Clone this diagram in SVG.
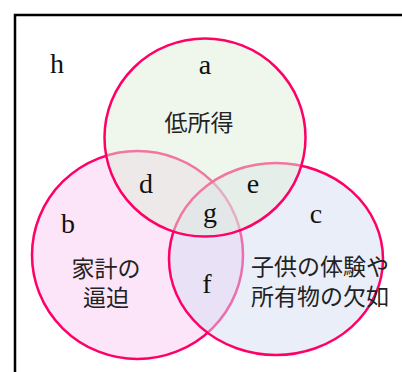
<svg xmlns="http://www.w3.org/2000/svg" width="402" height="372" viewBox="0 0 402 372">
<style>
.set{stroke:#FF0066;stroke-width:2.5}
.lt{font-family:"Liberation Serif","DejaVu Serif",serif;font-size:28px;fill:#111;text-anchor:middle}
.jp{font-family:"Noto Sans CJK JP","Noto Sans",sans-serif;font-size:23px;fill:#222}
</style>
<rect width="402" height="372" fill="#ffffff"/>
<rect x="15" y="15" width="500" height="500" fill="none" stroke="#000" stroke-width="2.5"/>
<text class="lt" x="57" y="73">h</text>
<g id="setB">
<ellipse class="set" cx="137.5" cy="255" rx="105.5" ry="104" fill="rgb(250,204,242)" fill-opacity="0.5"/>
</g>
<g id="setC">
<ellipse class="set" cx="276" cy="259" rx="107" ry="96" fill="#D5DDF1" fill-opacity="0.5"/>
</g>
<g id="setA">
<ellipse class="set" cx="205" cy="137.5" rx="100.5" ry="99" fill="#DFEDD9" fill-opacity="0.5"/>
</g>
<g id="labels">
<text class="lt" x="205" y="74">a</text>
<text class="jp" x="199" y="131" text-anchor="middle" font-size="20.5px">低所得</text>
<text class="lt" x="68" y="233">b</text>
<text class="jp" x="106" y="277" text-anchor="middle">家計の</text>
<text class="jp" x="106" y="306" text-anchor="middle">逼迫</text>
<text class="lt" x="316" y="223">c</text>
<text class="jp" x="251" y="275">子供の体験や</text>
<text class="jp" x="251" y="305">所有物の欠如</text>
<text class="lt" x="146" y="193">d</text>
<text class="lt" x="253" y="193">e</text>
<text class="lt" x="207" y="293">f</text>
<text class="lt" x="210" y="222">g</text>
</g>
</svg>
